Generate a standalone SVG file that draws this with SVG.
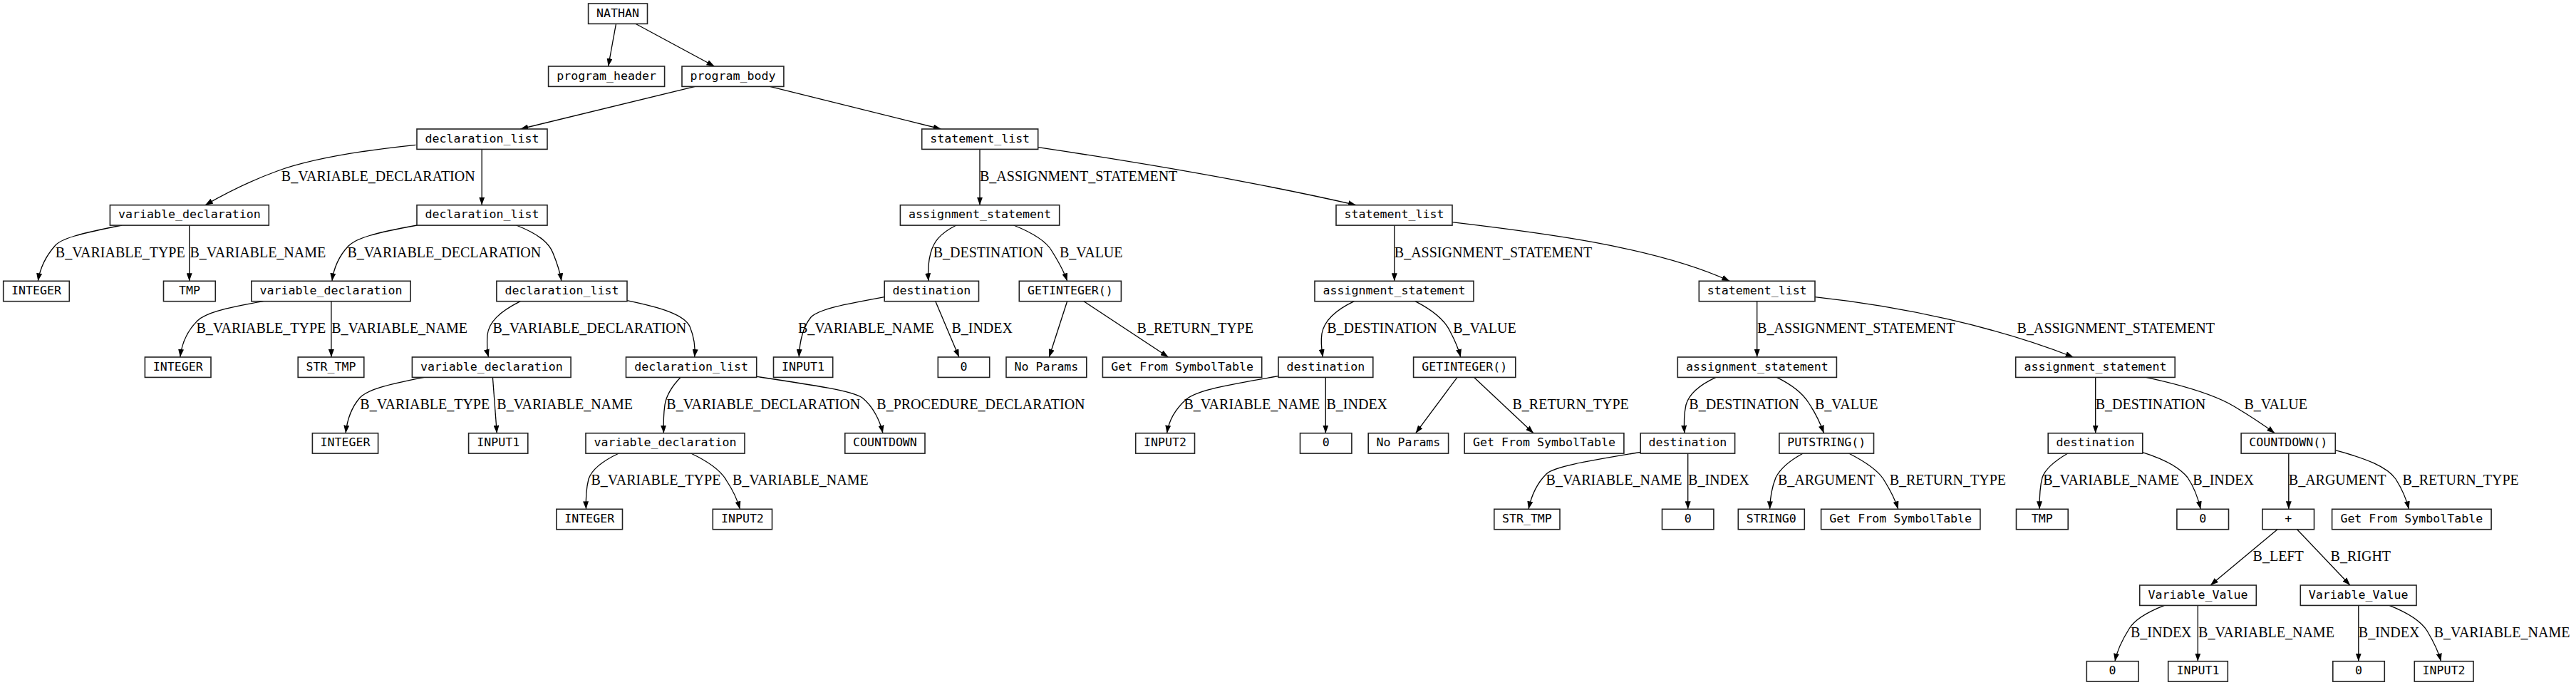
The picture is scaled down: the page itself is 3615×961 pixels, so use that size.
<svg xmlns="http://www.w3.org/2000/svg" width="3615" height="961" viewBox="0 0 3615 961">
<style>
.n rect{fill:#fff;stroke:#222;stroke-width:1.6}
.n text{font-family:"DejaVu Sans Mono",monospace;font-size:16.6px;text-anchor:middle;fill:#000}
#edges path{fill:none;stroke:#000;stroke-width:1.3;marker-end:url(#a)}
.l{font-family:"Liberation Serif",serif;font-size:20px;fill:#000}
</style>
<defs>
<marker id="a" markerUnits="userSpaceOnUse" markerWidth="11" markerHeight="8" refX="11" refY="4" orient="auto"><path d="M0,0 L11,4 L0,8 z" fill="#000"/></marker>
</defs>
<rect width="3615" height="961" fill="#fff"/>
<g id="edges">
<path d="M864.5,33.3 L853.6,93"/>
<path d="M891.8,33.3 L1002.6,93"/>
<path d="M975.4,121.3 L730.3,181"/>
<path d="M1080.4,121.3 L1320.6,181"/>
<path d="M583.5,203.3 C500,212 430,225 389,240 C345,256 310,275 287.9,287.7"/>
<path d="M676.2,209.3 L676.2,287.7"/>
<path d="M171.2,316 C110,328 85,335 77,345 C62,362 56,378 53.3,394.3"/>
<path d="M265.7,316 L265.7,394.3"/>
<path d="M585.4,316 C525,327 500,334 489,345 C475,360 468,378 466,394.3"/>
<path d="M724.5,316 C755,328 770,340 776,355 C783,372 786,382 787.9,394.3"/>
<path d="M1375,209.3 L1375,287.7"/>
<path d="M1456.7,206.7 C1600,228 1760,255 1903,287.7"/>
<path d="M369.6,422.7 C310,433 288,440 277,450 C262,465 255,482 252.8,501"/>
<path d="M464.9,422.7 L464.9,501"/>
<path d="M730.3,422.7 C700,438 686,452 684,470 C683,485 684,495 685.6,501"/>
<path d="M880,421.7 C930,432 960,442 968,458 C975,475 976,488 974.6,501"/>
<path d="M1342,316 C1318,328 1310,340 1306,355 C1302,370 1302,382 1303,394.3"/>
<path d="M1422.5,316 C1450,327 1468,338 1476,352 C1486,368 1493,380 1497.6,394.3"/>
<path d="M1956.8,316 L1956.8,394.3"/>
<path d="M2038,311.7 C2150,325 2320,345 2427.2,394.3"/>
<path d="M1241.2,416.7 C1190,426 1150,433 1138,445 C1126,460 1122,480 1121.3,501"/>
<path d="M1312.8,422.7 L1345.9,501"/>
<path d="M1497.6,422.7 L1472.3,501"/>
<path d="M1520.9,422.7 L1639.6,501"/>
<path d="M1900.4,422.7 C1870,437 1858,452 1855,468 C1853,482 1855,492 1856.4,501"/>
<path d="M1986,422.7 C2012,436 2028,450 2035,465 C2043,480 2047,490 2049.7,501"/>
<path d="M2465.7,422.7 L2465.7,501"/>
<path d="M2547,416.7 C2670,430 2800,458 2909.6,501"/>
<path d="M1794,527.7 C1720,540 1680,548 1665,560 C1648,575 1640,592 1637.6,607.7"/>
<path d="M1860.3,529.3 L1860.3,607.7"/>
<path d="M2045,529.3 L1986.7,607.7"/>
<path d="M2068.4,529.3 L2152,607.7"/>
<path d="M2408,529.3 C2385,540 2370,553 2366,568 C2363,582 2363,595 2364,607.7"/>
<path d="M2493.4,529.3 C2515,540 2530,552 2538,565 C2548,580 2555,595 2559.5,607.7"/>
<path d="M2940.7,529.3 L2940.7,607.7"/>
<path d="M3011.8,529.3 C3070,542 3110,555 3135,570 C3160,585 3178,597 3192.2,607.7"/>
<path d="M595.2,529.3 C540,540 515,547 505,558 C492,573 487,590 485.1,607.7"/>
<path d="M691.4,529.3 L697.3,607.7"/>
<path d="M955.2,529.3 C942,543 935,555 933,568 C931,582 931,595 931.4,607.7"/>
<path d="M1061.7,528.3 C1140,540 1195,548 1210,558 C1225,570 1235,590 1238.9,607.7"/>
<path d="M2302.2,634.3 C2220,648 2180,655 2170,665 C2155,680 2148,700 2145,714.3"/>
<path d="M2368.7,636 L2368.7,714.3"/>
<path d="M2530.3,636 C2510,647 2498,658 2492,670 C2486,685 2484,700 2483.6,714.3"/>
<path d="M2594.5,636 C2618,648 2635,660 2643,672 C2653,688 2660,702 2663.7,714.3"/>
<path d="M2901.8,636 C2883,647 2870,658 2866,670 C2862,685 2862,700 2862.1,714.3"/>
<path d="M3006,634.3 C3040,645 3060,657 3070,670 C3080,685 3085,700 3088.2,714.3"/>
<path d="M3211.8,636 L3211.8,714.3"/>
<path d="M3277.3,631.7 C3320,643 3350,655 3362,672 C3372,688 3377,700 3380.4,714.3"/>
<path d="M3196,742.7 L3102,821"/>
<path d="M3223.6,742.7 L3298,821"/>
<path d="M3037.3,849.3 C3010,860 2995,870 2988,882 C2978,898 2971,912 2968,927.7"/>
<path d="M3084.3,849.3 L3084.3,927.7"/>
<path d="M3309.8,849.3 L3309.8,927.7"/>
<path d="M3353,849.3 C3380,860 3398,872 3406,885 C3415,900 3422,914 3425.5,927.7"/>
<path d="M868.4,636 C845,647 830,660 826,672 C822,688 822,702 822.5,714.3"/>
<path d="M969.6,636 C995,648 1012,660 1020,675 C1030,690 1035,702 1038.4,714.3"/>
</g>
<g id="labels">
<text class="l" x="394.8" y="254">B_VARIABLE_DECLARATION</text>
<text class="l" x="1375" y="254">B_ASSIGNMENT_STATEMENT</text>
<text class="l" x="77.8" y="360.6">B_VARIABLE_TYPE</text>
<text class="l" x="266.5" y="360.6">B_VARIABLE_NAME</text>
<text class="l" x="487.4" y="360.6">B_VARIABLE_DECLARATION</text>
<text class="l" x="1309.7" y="360.6">B_DESTINATION</text>
<text class="l" x="1487" y="360.6">B_VALUE</text>
<text class="l" x="1956.8" y="360.6">B_ASSIGNMENT_STATEMENT</text>
<text class="l" x="275.4" y="467.2">B_VARIABLE_TYPE</text>
<text class="l" x="465.2" y="467.2">B_VARIABLE_NAME</text>
<text class="l" x="691.4" y="467.2">B_VARIABLE_DECLARATION</text>
<text class="l" x="1120" y="467.2">B_VARIABLE_NAME</text>
<text class="l" x="1335.4" y="467.2">B_INDEX</text>
<text class="l" x="1595.6" y="467.2">B_RETURN_TYPE</text>
<text class="l" x="1862.2" y="467.2">B_DESTINATION</text>
<text class="l" x="2039.2" y="467.2">B_VALUE</text>
<text class="l" x="2466.1" y="467.2">B_ASSIGNMENT_STATEMENT</text>
<text class="l" x="2830.6" y="467.2">B_ASSIGNMENT_STATEMENT</text>
<text class="l" x="505.3" y="573.8">B_VARIABLE_TYPE</text>
<text class="l" x="697.3" y="573.8">B_VARIABLE_NAME</text>
<text class="l" x="935.3" y="573.8">B_VARIABLE_DECLARATION</text>
<text class="l" x="1230.3" y="573.8">B_PROCEDURE_DECLARATION</text>
<text class="l" x="1661.4" y="573.8">B_VARIABLE_NAME</text>
<text class="l" x="1861.5" y="573.8">B_INDEX</text>
<text class="l" x="2122.5" y="573.8">B_RETURN_TYPE</text>
<text class="l" x="2370.3" y="573.8">B_DESTINATION</text>
<text class="l" x="2547" y="573.8">B_VALUE</text>
<text class="l" x="2940.7" y="573.8">B_DESTINATION</text>
<text class="l" x="3149.4" y="573.8">B_VALUE</text>
<text class="l" x="829.5" y="680.4">B_VARIABLE_TYPE</text>
<text class="l" x="1027.9" y="680.4">B_VARIABLE_NAME</text>
<text class="l" x="2169.6" y="680.4">B_VARIABLE_NAME</text>
<text class="l" x="2369.1" y="680.4">B_INDEX</text>
<text class="l" x="2494.9" y="680.4">B_ARGUMENT</text>
<text class="l" x="2651.7" y="680.4">B_RETURN_TYPE</text>
<text class="l" x="2867.2" y="680.4">B_VARIABLE_NAME</text>
<text class="l" x="3077.3" y="680.4">B_INDEX</text>
<text class="l" x="3211.8" y="680.4">B_ARGUMENT</text>
<text class="l" x="3371.4" y="680.4">B_RETURN_TYPE</text>
<text class="l" x="3161.6" y="787">B_LEFT</text>
<text class="l" x="3270.6" y="787">B_RIGHT</text>
<text class="l" x="2990" y="893.6">B_INDEX</text>
<text class="l" x="3085.1" y="893.6">B_VARIABLE_NAME</text>
<text class="l" x="3309.8" y="893.6">B_INDEX</text>
<text class="l" x="3415.7" y="893.6">B_VARIABLE_NAME</text>
</g>
<g id="n0" class="n"><rect x="825.6" y="5" width="82.9" height="28.4"/><text x="867" y="23.5">NATHAN</text></g>
<g id="n1" class="n"><rect x="769.6" y="93" width="163" height="28.4"/><text x="851.1" y="111.5">program_header</text></g>
<g id="n2" class="n"><rect x="957" y="93" width="142.9" height="28.4"/><text x="1028.5" y="111.5">program_body</text></g>
<g id="n3" class="n"><rect x="585" y="181" width="183" height="28.4"/><text x="676.5" y="199.5">declaration_list</text></g>
<g id="n4" class="n"><rect x="1293.7" y="181" width="163" height="28.4"/><text x="1375.2" y="199.5">statement_list</text></g>
<g id="n5" class="n"><rect x="154.4" y="287.7" width="222.9" height="28.4"/><text x="265.9" y="306.2">variable_declaration</text></g>
<g id="n6" class="n"><rect x="585" y="287.7" width="183" height="28.4"/><text x="676.5" y="306.2">declaration_list</text></g>
<g id="n7" class="n"><rect x="1263.4" y="287.7" width="223.3" height="28.4"/><text x="1375" y="306.2">assignment_statement</text></g>
<g id="n8" class="n"><rect x="1875" y="287.7" width="163" height="28.4"/><text x="1956.5" y="306.2">statement_list</text></g>
<g id="n9" class="n"><rect x="4.7" y="394.3" width="92.6" height="28.4"/><text x="51" y="412.8">INTEGER</text></g>
<g id="n10" class="n"><rect x="229.5" y="394.3" width="72.8" height="28.4"/><text x="265.9" y="412.8">TMP</text></g>
<g id="n11" class="n"><rect x="352.8" y="394.3" width="223.3" height="28.4"/><text x="464.5" y="412.8">variable_declaration</text></g>
<g id="n12" class="n"><rect x="696.9" y="394.3" width="183.1" height="28.4"/><text x="788.5" y="412.8">declaration_list</text></g>
<g id="n13" class="n"><rect x="1241.2" y="394.3" width="132.3" height="28.4"/><text x="1307.4" y="412.8">destination</text></g>
<g id="n14" class="n"><rect x="1430.3" y="394.3" width="143.1" height="28.4"/><text x="1501.9" y="412.8">GETINTEGER()</text></g>
<g id="n15" class="n"><rect x="1845" y="394.3" width="223" height="28.4"/><text x="1956.5" y="412.8">assignment_statement</text></g>
<g id="n16" class="n"><rect x="2384.3" y="394.3" width="162.7" height="28.4"/><text x="2465.7" y="412.8">statement_list</text></g>
<g id="n17" class="n"><rect x="203.4" y="501" width="92.6" height="28.4"/><text x="249.7" y="519.5">INTEGER</text></g>
<g id="n18" class="n"><rect x="418.2" y="501" width="92.6" height="28.4"/><text x="464.5" y="519.5">STR_TMP</text></g>
<g id="n19" class="n"><rect x="578.4" y="501" width="222.7" height="28.4"/><text x="689.8" y="519.5">variable_declaration</text></g>
<g id="n20" class="n"><rect x="878.5" y="501" width="183.2" height="28.4"/><text x="970.1" y="519.5">declaration_list</text></g>
<g id="n21" class="n"><rect x="1085.5" y="501" width="83.2" height="28.4"/><text x="1127.1" y="519.5">INPUT1</text></g>
<g id="n22" class="n"><rect x="1316.3" y="501" width="72.4" height="28.4"/><text x="1352.5" y="519.5">0</text></g>
<g id="n23" class="n"><rect x="1412" y="501" width="112.8" height="28.4"/><text x="1468.4" y="519.5">No Params</text></g>
<g id="n24" class="n"><rect x="1547.4" y="501" width="223.3" height="28.4"/><text x="1659.1" y="519.5">Get From SymbolTable</text></g>
<g id="n25" class="n"><rect x="1794" y="501" width="132.8" height="28.4"/><text x="1860.4" y="519.5">destination</text></g>
<g id="n26" class="n"><rect x="1983.6" y="501" width="143.2" height="28.4"/><text x="2055.2" y="519.5">GETINTEGER()</text></g>
<g id="n27" class="n"><rect x="2354.3" y="501" width="223.1" height="28.4"/><text x="2465.9" y="519.5">assignment_statement</text></g>
<g id="n28" class="n"><rect x="2828.7" y="501" width="223.5" height="28.4"/><text x="2940.5" y="519.5">assignment_statement</text></g>
<g id="n29" class="n"><rect x="438.4" y="607.7" width="92.2" height="28.4"/><text x="484.5" y="626.2">INTEGER</text></g>
<g id="n30" class="n"><rect x="657.6" y="607.7" width="83.2" height="28.4"/><text x="699.2" y="626.2">INPUT1</text></g>
<g id="n31" class="n"><rect x="822" y="607.7" width="223" height="28.4"/><text x="933.5" y="626.2">variable_declaration</text></g>
<g id="n32" class="n"><rect x="1185.8" y="607.7" width="112.2" height="28.4"/><text x="1241.9" y="626.2">COUNTDOWN</text></g>
<g id="n33" class="n"><rect x="1593.7" y="607.7" width="82.8" height="28.4"/><text x="1635.1" y="626.2">INPUT2</text></g>
<g id="n34" class="n"><rect x="1824.5" y="607.7" width="72.4" height="28.4"/><text x="1860.7" y="626.2">0</text></g>
<g id="n35" class="n"><rect x="1920.2" y="607.7" width="112.4" height="28.4"/><text x="1976.4" y="626.2">No Params</text></g>
<g id="n36" class="n"><rect x="2055.2" y="607.7" width="223.7" height="28.4"/><text x="2167" y="626.2">Get From SymbolTable</text></g>
<g id="n37" class="n"><rect x="2302.2" y="607.7" width="132.4" height="28.4"/><text x="2368.4" y="626.2">destination</text></g>
<g id="n38" class="n"><rect x="2496.9" y="607.7" width="132.6" height="28.4"/><text x="2563.2" y="626.2">PUTSTRING()</text></g>
<g id="n39" class="n"><rect x="2874.2" y="607.7" width="132.6" height="28.4"/><text x="2940.5" y="626.2">destination</text></g>
<g id="n40" class="n"><rect x="3145.1" y="607.7" width="132.2" height="28.4"/><text x="3211.2" y="626.2">COUNTDOWN()</text></g>
<g id="n41" class="n"><rect x="780.9" y="714.3" width="92.6" height="28.4"/><text x="827.2" y="732.8">INTEGER</text></g>
<g id="n42" class="n"><rect x="1000.3" y="714.3" width="83.2" height="28.4"/><text x="1041.9" y="732.8">INPUT2</text></g>
<g id="n43" class="n"><rect x="2096.8" y="714.3" width="92.2" height="28.4"/><text x="2142.9" y="732.8">STR_TMP</text></g>
<g id="n44" class="n"><rect x="2332.5" y="714.3" width="72.4" height="28.4"/><text x="2368.7" y="732.8">0</text></g>
<g id="n45" class="n"><rect x="2439.3" y="714.3" width="93" height="28.4"/><text x="2485.8" y="732.8">STRING0</text></g>
<g id="n46" class="n"><rect x="2555.6" y="714.3" width="223.3" height="28.4"/><text x="2667.2" y="732.8">Get From SymbolTable</text></g>
<g id="n47" class="n"><rect x="2829.5" y="714.3" width="72.7" height="28.4"/><text x="2865.8" y="732.8">TMP</text></g>
<g id="n48" class="n"><rect x="3054.9" y="714.3" width="72.6" height="28.4"/><text x="3091.2" y="732.8">0</text></g>
<g id="n49" class="n"><rect x="3174.9" y="714.3" width="72.6" height="28.4"/><text x="3211.2" y="732.8">+</text></g>
<g id="n50" class="n"><rect x="3272.6" y="714.3" width="223.5" height="28.4"/><text x="3384.3" y="732.8">Get From SymbolTable</text></g>
<g id="n51" class="n"><rect x="3002.7" y="821" width="163.6" height="28.4"/><text x="3084.5" y="839.5">Variable_Value</text></g>
<g id="n52" class="n"><rect x="3228.3" y="821" width="162.7" height="28.4"/><text x="3309.6" y="839.5">Variable_Value</text></g>
<g id="n53" class="n"><rect x="2928.3" y="927.7" width="72.7" height="28.4"/><text x="2964.6" y="946.2">0</text></g>
<g id="n54" class="n"><rect x="3042.7" y="927.7" width="83.6" height="28.4"/><text x="3084.5" y="946.2">INPUT1</text></g>
<g id="n55" class="n"><rect x="3273.8" y="927.7" width="72.5" height="28.4"/><text x="3310" y="946.2">0</text></g>
<g id="n56" class="n"><rect x="3388.3" y="927.7" width="82.7" height="28.4"/><text x="3429.6" y="946.2">INPUT2</text></g>
</svg>
